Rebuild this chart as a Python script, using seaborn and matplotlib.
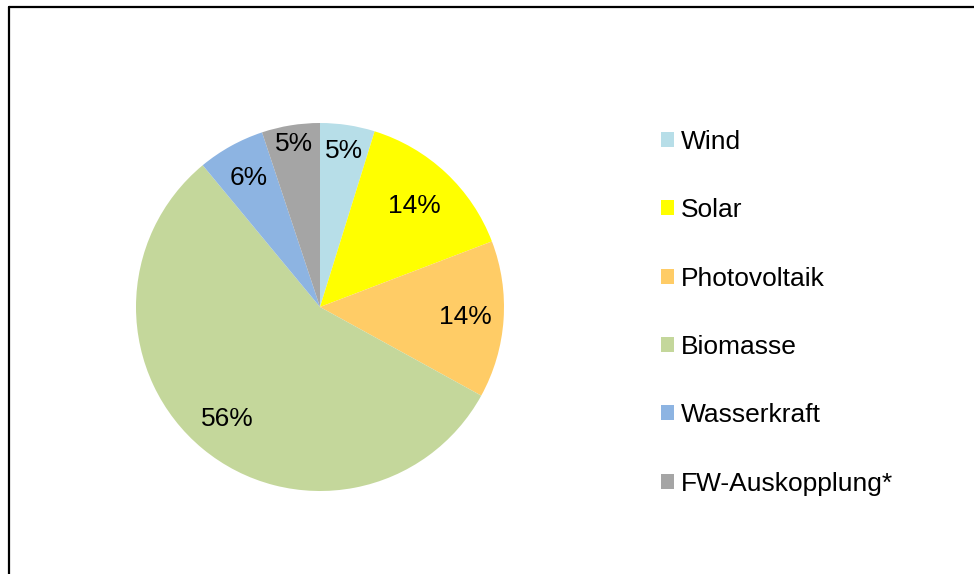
import matplotlib
matplotlib.use("Agg")
import matplotlib.pyplot as plt
import seaborn as sns
import numpy as np
from matplotlib.patches import Patch
from matplotlib.lines import Line2D

categories = ["Wind", "Solar", "Photovoltaik", "Biomasse", "Wasserkraft", "FW-Auskopplung*"]
values = [4.8, 14.4, 13.8, 56.0, 5.9, 5.1]
pct_labels = ["5%", "14%", "14%", "56%", "6%", "5%"]
colors = ["#B7DEE8", "#FFFF00", "#FFCC66", "#C4D79B", "#8DB4E2", "#A5A5A5"]
label_radius = [0.86, 0.75, 0.79, 0.79, 0.80, 0.90]

sns.set_theme(style="white")
plt.rcParams["font.family"] = ["Liberation Sans", "DejaVu Sans"]
plt.rcParams["text.color"] = "black"

W, H = 974, 574
fig = plt.figure(figsize=(W / 100, H / 100), dpi=100)
fig.patch.set_facecolor("white")

cx, cy, R = 320, 307, 184
ax = fig.add_axes([(cx - R) / W, (H - cy - R) / H, 2 * R / W, 2 * R / H])
wedges, _ = ax.pie(values, colors=colors, startangle=90, counterclock=False,
                   wedgeprops=dict(linewidth=0, edgecolor="white"))
ax.set_xlim(-1, 1)
ax.set_ylim(-1, 1)
ax.set_aspect("equal")

for w, lab, r in zip(wedges, pct_labels, label_radius):
    ang = np.deg2rad((w.theta1 + w.theta2) / 2)
    ax.text(r * np.cos(ang), r * np.sin(ang), lab, ha="center", va="center",
            fontsize=19, color="black")

handles = [Patch(facecolor=c, edgecolor="none") for c in colors]
leg = fig.legend(handles, categories, loc="upper left",
                 bbox_to_anchor=(661 / W, 1 - 130 / H), frameon=False,
                 fontsize=19, handlelength=0.5, handleheight=0.5,
                 handletextpad=0.27, labelspacing=1.68, borderpad=0, borderaxespad=0)
for t in leg.get_texts():
    t.set_color("black")

# outer frame (top and left lines)
fig.add_artist(Line2D([8.5 / W, 1.0], [1 - 7 / H, 1 - 7 / H], transform=fig.transFigure,
                      color="black", linewidth=1.6))
fig.add_artist(Line2D([8.5 / W, 8.5 / W], [0, 1 - 7 / H], transform=fig.transFigure,
                      color="black", linewidth=1.6))

fig.savefig("out.png", dpi=100, facecolor="white")
